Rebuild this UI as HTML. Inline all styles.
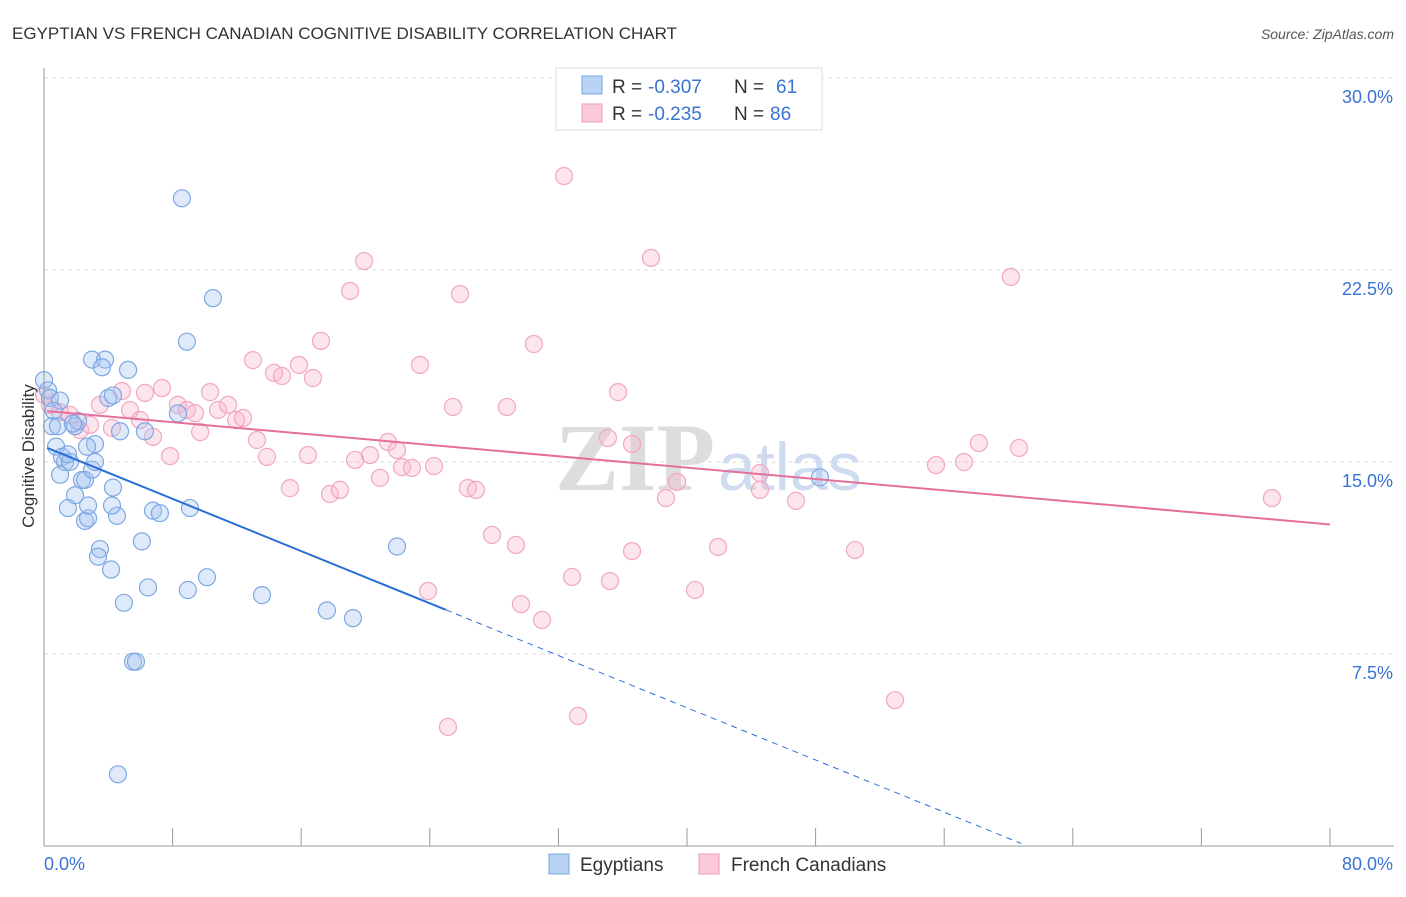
<!DOCTYPE html>
<html><head><meta charset="utf-8"><style>
body{margin:0;background:#fff;font-family:"Liberation Sans",sans-serif;}
</style></head><body>
<svg width="1406" height="892" xmlns="http://www.w3.org/2000/svg" font-family="Liberation Sans, sans-serif">
<text x="12" y="39" font-size="17" fill="#333">EGYPTIAN VS FRENCH CANADIAN COGNITIVE DISABILITY CORRELATION CHART</text>
<text x="1394" y="39" font-size="14" fill="#555" font-style="italic" text-anchor="end">Source: ZipAtlas.com</text>
<g id="grid"></g>
<text x="555" y="490" font-size="96" fill="#ddd" font-family="Liberation Serif, serif" font-weight="bold">ZIP</text>
<text x="718" y="490" font-size="68" fill="#cfdcef">atlas</text>
<g id="pts"></g>
<g id="axes"></g>
<text x="34" y="456" font-size="17" fill="#333" text-anchor="middle" transform="rotate(-90 34 456)">Cognitive Disability</text>
<g>
<rect x="556" y="68" width="266" height="62" fill="#fff" stroke="#ddd"/>
<rect x="582" y="76" width="20" height="18" fill="#b8d3f5" stroke="#7aa6e0"/>
<rect x="582" y="104" width="20" height="18" fill="#fbcada" stroke="#ef9ab5"/>
<text x="612" y="93" font-size="19" fill="#333">R =</text><text x="648" y="93" font-size="19" fill="#3a73d4">-0.307</text>
<text x="734" y="93" font-size="19" fill="#333">N =</text><text x="776" y="93" font-size="19" fill="#3a73d4">61</text>
<text x="612" y="120" font-size="19" fill="#333">R =</text><text x="648" y="120" font-size="19" fill="#3a73d4">-0.235</text>
<text x="734" y="120" font-size="19" fill="#333">N =</text><text x="770" y="120" font-size="19" fill="#3a73d4">86</text>
</g>
<g>
<rect x="549" y="854" width="20" height="20" fill="#b8d3f5" stroke="#7aa6e0"/>
<text x="580" y="871" font-size="19" fill="#333">Egyptians</text>
<rect x="699" y="854" width="20" height="20" fill="#fbcada" stroke="#ef9ab5"/>
<text x="731" y="871" font-size="19" fill="#333">French Canadians</text>
</g>
</svg>
<script>
const xTicks=[0,8,16,24,32,40,48,56,64,72,80];
const yTicks=[7.5,15,22.5,30];
const yTickLabels=["7.5%","15.0%","22.5%","30.0%"];
const blueX=[0,0.25,0.37,1.0,0.5,0.87,0.75,1.12,1.31,1.62,1.49,1.0,1.93,1.49,2.55,2.74,2.74,2.36,2.55,2.99,3.17,3.17,2.68,1.93,2.12,2.99,3.8,3.61,5.23,4.0,4.29,4.73,6.28,8.33,8.58,10.51,8.89,4.29,4.54,4.23,6.78,7.21,9.08,6.09,3.48,3.36,4.17,6.47,8.95,10.14,4.97,13.56,17.6,19.22,5.54,5.72,21.96,4.6,48.27,0.6,1.8];
const blueY=[18.2,17.8,17.5,17.4,16.4,16.4,15.6,15.2,15.0,15.0,15.3,14.5,13.7,13.2,12.7,12.8,13.3,14.3,14.3,14.7,15.0,15.7,15.6,16.4,16.6,19.0,19.0,18.7,18.6,17.5,17.6,16.2,16.2,16.9,25.3,21.4,19.7,14.0,12.9,13.3,13.1,13.0,13.2,11.9,11.6,11.3,10.8,10.1,10.0,10.5,9.5,9.8,9.2,8.9,7.2,7.2,11.7,2.8,14.4,17.0,16.5];
const pinkX=[0,0.37,1.0,1.62,2.24,2.86,3.48,4.23,4.85,5.35,5.97,6.28,6.78,7.34,7.84,8.33,8.89,9.39,9.71,10.33,10.83,11.45,11.95,12.38,13.0,13.25,13.87,14.31,14.8,15.3,15.86,16.42,16.73,17.23,17.79,18.41,19.04,19.35,19.91,20.28,20.9,21.4,21.96,22.27,22.89,23.39,24.26,23.89,25.13,25.44,25.88,26.37,26.87,27.87,28.8,29.36,29.67,30.48,30.98,32.35,32.85,33.22,35.08,35.21,35.71,36.58,36.58,37.45,37.76,38.69,39.38,40.5,41.93,44.54,44.54,46.78,50.45,52.94,55.49,57.23,58.16,60.15,60.65,76.39];
const pinkY=[17.62,17.23,16.95,16.84,16.25,16.45,17.23,16.33,17.77,17.03,16.64,17.7,15.98,17.89,15.23,17.23,17.03,16.91,16.17,17.73,17.03,17.23,16.64,16.72,18.98,15.86,15.2,18.48,18.36,13.98,18.79,15.27,18.28,19.73,13.75,13.91,21.68,15.08,22.85,15.27,14.38,15.78,15.47,14.8,14.77,18.79,14.84,9.96,4.65,17.15,21.56,13.98,13.91,12.15,17.15,11.76,9.45,19.61,8.83,26.17,10.51,5.08,15.94,10.35,17.73,15.7,11.52,29.45,22.97,13.59,14.22,10.0,11.68,14.57,13.91,13.48,11.56,5.7,14.88,15.0,15.74,22.23,15.55,13.59];
const X=v=>44+v/80*1286, Y=v=>846-v*25.6;
const ns="http://www.w3.org/2000/svg";
function mk(t,a,p){const e=document.createElementNS(ns,t);for(const k in a)e.setAttribute(k,a[k]);p.appendChild(e);return e;}
const grid=document.getElementById('grid'),axes=document.getElementById('axes'),pts=document.getElementById('pts');
yTicks.forEach((v,i)=>{
const l=mk('line',{x1:44,x2:1394,y1:Y(v),y2:Y(v),stroke:'#ddd','stroke-dasharray':'4,4'},grid);


const t=mk('text',{x:1393,y:Y(v)+25,'font-size':18,fill:'#3a73d4','text-anchor':'end'},axes);t.textContent=yTickLabels[i];


});
mk('line',{x1:44,x2:44,y1:68,y2:846,stroke:'#999'},axes);
mk('line',{x1:44,x2:1394,y1:846,y2:846,stroke:'#999'},axes);
xTicks.forEach(v=>{const t=mk('line',{x1:X(v),x2:X(v),y1:828,y2:846,stroke:'#999'},axes);

});
let a=mk('text',{x:44,y:870,'font-size':18,fill:'#3a73d4'},axes);a.textContent='0.0%';


a=mk('text',{x:1393,y:870,'font-size':18,fill:'#3a73d4','text-anchor':'end'},axes);a.textContent='80.0%';


pinkX.forEach((x,i)=>{const c=mk('circle',{cx:X(x),cy:Y(pinkY[i]),r:8.5,fill:'rgba(248,180,205,0.35)',stroke:'#f1a7c0','stroke-width':1.2},pts);

});
blueX.forEach((x,i)=>{const c=mk('circle',{cx:X(x),cy:Y(blueY[i]),r:8.5,fill:'rgba(160,195,240,0.35)',stroke:'#7ea8e2','stroke-width':1.2},pts);

});
const pb=[17.0,-0.0555],bb=[15.6,-0.255];
let t=mk('line',{x1:X(0.2),y1:Y(pb[0]+pb[1]*0.2),x2:X(80),y2:Y(pb[0]+pb[1]*80),stroke:'#e4709a','stroke-width':2},pts);


t=mk('line',{x1:X(0.2),y1:Y(bb[0]+bb[1]*0.2),x2:X(25),y2:Y(bb[0]+bb[1]*25),stroke:'#2a6fd6','stroke-width':2},pts);


t=mk('line',{x1:X(25),y1:Y(bb[0]+bb[1]*25),x2:X(60.8),y2:Y(bb[0]+bb[1]*60.8),stroke:'#2a6fd6','stroke-width':1,'stroke-dasharray':'6,5'},pts);


</script>
</body></html>
